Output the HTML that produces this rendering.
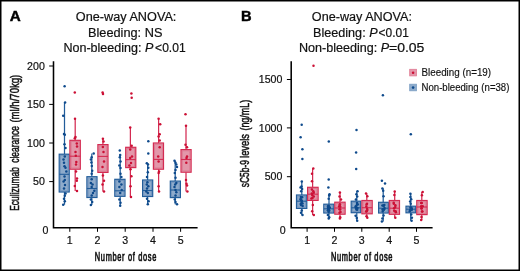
<!DOCTYPE html>
<html><head><meta charset="utf-8"><style>
html,body{margin:0;padding:0;background:#fff;}
svg{display:block;will-change:transform;}
text{font-family:"Liberation Sans",sans-serif;fill:#111;}
.tt{font-size:12.5px;stroke:#111;stroke-width:0.2px;}
.pl{font-size:14.9px;font-weight:bold;fill:#000;stroke:#000;stroke-width:0.45px;}
.tk{font-size:10.6px;stroke:#111;stroke-width:0.2px;}
.al{font-size:12.4px;stroke:#111;stroke-width:0.7px;}
.lg{font-size:10.2px;stroke:#111;stroke-width:0.15px;}
.yl{stroke-width:0.5px;}
</style></head><body>
<svg width="520" height="271" viewBox="0 0 520 271">
<rect width="520" height="271" fill="#fff"/>
<rect x="0.75" y="0.75" width="518.5" height="269.5" fill="none" stroke="#000" stroke-width="1.5"/>
<text x="9.7" y="20.75" class="pl" textLength="11.0" lengthAdjust="spacingAndGlyphs">A</text>
<text x="241.0" y="20.75" class="pl" textLength="10.6" lengthAdjust="spacingAndGlyphs">B</text>
<text x="75.80" y="20.9" class="tt" textLength="100.60" lengthAdjust="spacingAndGlyphs">One-way ANOVA:</text>
<text x="88.00" y="36.6" class="tt" textLength="74.40" lengthAdjust="spacingAndGlyphs">Bleeding: NS</text>
<text x="63.40" y="52.0" class="tt" textLength="90.00" lengthAdjust="spacingAndGlyphs">Non-bleeding: <tspan font-style="italic">P</tspan></text>
<text x="155.10" y="52.0" class="tt" textLength="30.50" lengthAdjust="spacingAndGlyphs">&lt;0.01</text>
<text x="311.80" y="20.9" class="tt" textLength="100.20" lengthAdjust="spacingAndGlyphs">One-way ANOVA:</text>
<text x="313.00" y="36.6" class="tt" textLength="64.60" lengthAdjust="spacingAndGlyphs">Bleeding: <tspan font-style="italic">P</tspan></text>
<text x="378.60" y="36.6" class="tt" textLength="30.20" lengthAdjust="spacingAndGlyphs">&lt;0.01</text>
<text x="299.00" y="52.0" class="tt" textLength="90.20" lengthAdjust="spacingAndGlyphs">Non-bleeding: <tspan font-style="italic">P</tspan></text>
<text x="389.00" y="52.0" class="tt" textLength="35.40" lengthAdjust="spacingAndGlyphs">=0.05</text>
<path d="M53.5 61.2 V227.8 H197.6" fill="none" stroke="#000" stroke-width="1.55"/>
<line x1="49.2" y1="66.0" x2="53.5" y2="66.0" stroke="#000" stroke-width="1"/>
<text x="44.8" y="69.7" text-anchor="end" class="tk">200</text>
<line x1="49.2" y1="104.4" x2="53.5" y2="104.4" stroke="#000" stroke-width="1"/>
<text x="44.8" y="108.10000000000001" text-anchor="end" class="tk">150</text>
<line x1="49.2" y1="143.0" x2="53.5" y2="143.0" stroke="#000" stroke-width="1"/>
<text x="44.8" y="146.7" text-anchor="end" class="tk">100</text>
<line x1="49.2" y1="181.6" x2="53.5" y2="181.6" stroke="#000" stroke-width="1"/>
<text x="44.8" y="185.29999999999998" text-anchor="end" class="tk">50</text>
<text x="48.4" y="234.3" text-anchor="end" class="tk">0</text>
<line x1="69.8" y1="227.8" x2="69.8" y2="231.8" stroke="#000" stroke-width="1"/>
<text x="69.8" y="243.8" text-anchor="middle" class="tk">1</text>
<line x1="97.5" y1="227.8" x2="97.5" y2="231.8" stroke="#000" stroke-width="1"/>
<text x="97.5" y="243.8" text-anchor="middle" class="tk">2</text>
<line x1="125.2" y1="227.8" x2="125.2" y2="231.8" stroke="#000" stroke-width="1"/>
<text x="125.2" y="243.8" text-anchor="middle" class="tk">3</text>
<line x1="153.0" y1="227.8" x2="153.0" y2="231.8" stroke="#000" stroke-width="1"/>
<text x="153.0" y="243.8" text-anchor="middle" class="tk">4</text>
<line x1="180.6" y1="227.8" x2="180.6" y2="231.8" stroke="#000" stroke-width="1"/>
<text x="180.6" y="243.8" text-anchor="middle" class="tk">5</text>
<text transform="translate(125.6 261.4) scale(0.6 1)" text-anchor="middle" class="al" textLength="102.67" lengthAdjust="spacing">Number of dose</text>
<text transform="translate(18.8 210.80) rotate(-90) scale(0.6 1)" class="al yl" textLength="72.83" lengthAdjust="spacingAndGlyphs">Eculizumab</text>
<text transform="translate(18.8 162.80) rotate(-90) scale(0.6 1)" class="al yl" textLength="61.17" lengthAdjust="spacingAndGlyphs">clearance</text>
<text transform="translate(18.8 122.60) rotate(-90) scale(0.6 1)" class="al yl" textLength="79.83" lengthAdjust="spacingAndGlyphs">(ml/h/70kg)</text>
<path d="M291.2 61.2 V227.8 H432.6" fill="none" stroke="#000" stroke-width="1.55"/>
<line x1="286.9" y1="79.5" x2="291.2" y2="79.5" stroke="#000" stroke-width="1"/>
<text x="282.4" y="83.2" text-anchor="end" class="tk">1500</text>
<line x1="286.9" y1="127.9" x2="291.2" y2="127.9" stroke="#000" stroke-width="1"/>
<text x="282.4" y="131.6" text-anchor="end" class="tk">1000</text>
<line x1="286.9" y1="176.7" x2="291.2" y2="176.7" stroke="#000" stroke-width="1"/>
<text x="282.4" y="180.39999999999998" text-anchor="end" class="tk">500</text>
<text x="285.6" y="234.3" text-anchor="end" class="tk">0</text>
<line x1="307.1" y1="227.8" x2="307.1" y2="231.8" stroke="#000" stroke-width="1"/>
<text x="307.1" y="243.8" text-anchor="middle" class="tk">1</text>
<line x1="334.5" y1="227.8" x2="334.5" y2="231.8" stroke="#000" stroke-width="1"/>
<text x="334.5" y="243.8" text-anchor="middle" class="tk">2</text>
<line x1="361.8" y1="227.8" x2="361.8" y2="231.8" stroke="#000" stroke-width="1"/>
<text x="361.8" y="243.8" text-anchor="middle" class="tk">3</text>
<line x1="389.2" y1="227.8" x2="389.2" y2="231.8" stroke="#000" stroke-width="1"/>
<text x="389.2" y="243.8" text-anchor="middle" class="tk">4</text>
<line x1="416.5" y1="227.8" x2="416.5" y2="231.8" stroke="#000" stroke-width="1"/>
<text x="416.5" y="243.8" text-anchor="middle" class="tk">5</text>
<text transform="translate(361.7 261.4) scale(0.6 1)" text-anchor="middle" class="al" textLength="102.67" lengthAdjust="spacing">Number of dose</text>
<text transform="translate(249.4 187.20) rotate(-90) scale(0.6 1)" class="al yl" textLength="45.17" lengthAdjust="spacingAndGlyphs">sC5b-9</text>
<text transform="translate(249.4 157.90) rotate(-90) scale(0.6 1)" class="al yl" textLength="39.83" lengthAdjust="spacingAndGlyphs">levels</text>
<text transform="translate(249.4 130.60) rotate(-90) scale(0.6 1)" class="al yl" textLength="51.50" lengthAdjust="spacingAndGlyphs">(ng/mL)</text>
<rect x="409.7" y="69.3" width="6.8" height="6.6" fill="#e397aa" stroke="#e07a93" stroke-width="0.8"/>
<circle cx="413.1" cy="72.8" r="1.3" fill="#cc1035"/>
<rect x="409.7" y="84.2" width="6.8" height="6.6" fill="#8eabcb" stroke="#7c9ec4" stroke-width="0.8"/>
<circle cx="413.1" cy="87.6" r="1.3" fill="#0e4a8c"/>
<text x="421.5" y="75.8" class="lg" textLength="69.6" lengthAdjust="spacingAndGlyphs">Bleeding (n=19)</text>
<text x="421.5" y="90.9" class="lg" textLength="87.9" lengthAdjust="spacingAndGlyphs">Non-bleeding (n=38)</text>
<line x1="64.5" y1="102.4" x2="64.5" y2="154.2" stroke="#225d9a" stroke-width="1.25"/>
<line x1="64.5" y1="192.0" x2="64.5" y2="204.7" stroke="#225d9a" stroke-width="1.25"/>
<rect x="59.20" y="154.20" width="10.00" height="37.80" fill="#8eabcb" stroke="#225d9a" stroke-width="1.2"/>
<rect x="60.40" y="155.40" width="7.60" height="35.40" fill="none" stroke="#7394bd" stroke-width="0.9"/>
<line x1="59.20" y1="174.3" x2="69.20" y2="174.3" stroke="#225d9a" stroke-width="1.1"/>
<circle cx="64.60" cy="86.30" r="1.25" fill="#0e4a8c"/>
<circle cx="65.10" cy="102.40" r="1.25" fill="#0e4a8c"/>
<circle cx="63.20" cy="115.80" r="1.25" fill="#0e4a8c"/>
<circle cx="64.00" cy="133.90" r="1.25" fill="#0e4a8c"/>
<circle cx="64.80" cy="134.80" r="1.25" fill="#0e4a8c"/>
<circle cx="64.50" cy="144.20" r="1.25" fill="#0e4a8c"/>
<circle cx="65.50" cy="148.00" r="1.25" fill="#0e4a8c"/>
<circle cx="64.80" cy="156.50" r="1.25" fill="#0e4a8c"/>
<circle cx="63.50" cy="159.60" r="1.25" fill="#0e4a8c"/>
<circle cx="64.00" cy="162.70" r="1.25" fill="#0e4a8c"/>
<circle cx="64.50" cy="166.20" r="1.25" fill="#0e4a8c"/>
<circle cx="65.50" cy="167.70" r="1.25" fill="#0e4a8c"/>
<circle cx="66.30" cy="171.50" r="1.25" fill="#0e4a8c"/>
<circle cx="64.50" cy="176.50" r="1.25" fill="#0e4a8c"/>
<circle cx="64.80" cy="180.00" r="1.25" fill="#0e4a8c"/>
<circle cx="63.60" cy="181.50" r="1.25" fill="#0e4a8c"/>
<circle cx="65.00" cy="185.00" r="1.25" fill="#0e4a8c"/>
<circle cx="64.00" cy="188.50" r="1.25" fill="#0e4a8c"/>
<circle cx="65.50" cy="193.50" r="1.25" fill="#0e4a8c"/>
<circle cx="64.80" cy="195.80" r="1.25" fill="#0e4a8c"/>
<circle cx="64.00" cy="198.80" r="1.25" fill="#0e4a8c"/>
<circle cx="64.80" cy="201.20" r="1.25" fill="#0e4a8c"/>
<circle cx="63.20" cy="204.70" r="1.25" fill="#0e4a8c"/>
<line x1="75.2" y1="118.8" x2="75.2" y2="140.3" stroke="#d42b52" stroke-width="1.25"/>
<line x1="75.2" y1="169.2" x2="75.2" y2="191.0" stroke="#d42b52" stroke-width="1.25"/>
<rect x="69.90" y="140.30" width="10.40" height="28.90" fill="#e397aa" stroke="#d42b52" stroke-width="1.2"/>
<rect x="71.10" y="141.50" width="8.00" height="26.50" fill="none" stroke="#dc7890" stroke-width="0.9"/>
<line x1="69.90" y1="156.2" x2="80.30" y2="156.2" stroke="#d42b52" stroke-width="1.1"/>
<circle cx="74.80" cy="92.40" r="1.25" fill="#cc1035"/>
<circle cx="75.00" cy="118.80" r="1.25" fill="#cc1035"/>
<circle cx="75.50" cy="137.00" r="1.25" fill="#cc1035"/>
<circle cx="74.80" cy="138.20" r="1.25" fill="#cc1035"/>
<circle cx="76.80" cy="143.50" r="1.25" fill="#cc1035"/>
<circle cx="77.00" cy="146.50" r="1.25" fill="#cc1035"/>
<circle cx="75.50" cy="152.00" r="1.25" fill="#cc1035"/>
<circle cx="75.80" cy="155.80" r="1.25" fill="#cc1035"/>
<circle cx="76.30" cy="162.00" r="1.25" fill="#cc1035"/>
<circle cx="76.00" cy="164.60" r="1.25" fill="#cc1035"/>
<circle cx="76.00" cy="171.50" r="1.25" fill="#cc1035"/>
<circle cx="77.00" cy="178.50" r="1.25" fill="#cc1035"/>
<circle cx="76.80" cy="180.80" r="1.25" fill="#cc1035"/>
<circle cx="74.80" cy="186.00" r="1.25" fill="#cc1035"/>
<circle cx="77.00" cy="191.00" r="1.25" fill="#cc1035"/>
<line x1="91.8" y1="153.5" x2="91.8" y2="176.7" stroke="#225d9a" stroke-width="1.25"/>
<line x1="91.8" y1="197.5" x2="91.8" y2="205.0" stroke="#225d9a" stroke-width="1.25"/>
<rect x="86.90" y="176.70" width="10.10" height="20.80" fill="#8eabcb" stroke="#225d9a" stroke-width="1.2"/>
<rect x="88.10" y="177.90" width="7.70" height="18.40" fill="none" stroke="#7394bd" stroke-width="0.9"/>
<line x1="86.90" y1="188.5" x2="97.00" y2="188.5" stroke="#225d9a" stroke-width="1.1"/>
<circle cx="93.70" cy="153.50" r="1.25" fill="#0e4a8c"/>
<circle cx="91.70" cy="157.30" r="1.25" fill="#0e4a8c"/>
<circle cx="90.90" cy="159.60" r="1.25" fill="#0e4a8c"/>
<circle cx="91.40" cy="162.50" r="1.25" fill="#0e4a8c"/>
<circle cx="91.80" cy="166.00" r="1.25" fill="#0e4a8c"/>
<circle cx="92.20" cy="170.80" r="1.25" fill="#0e4a8c"/>
<circle cx="91.70" cy="173.80" r="1.25" fill="#0e4a8c"/>
<circle cx="91.70" cy="179.20" r="1.25" fill="#0e4a8c"/>
<circle cx="90.90" cy="183.00" r="1.25" fill="#0e4a8c"/>
<circle cx="92.50" cy="184.60" r="1.25" fill="#0e4a8c"/>
<circle cx="91.70" cy="187.00" r="1.25" fill="#0e4a8c"/>
<circle cx="94.30" cy="190.80" r="1.25" fill="#0e4a8c"/>
<circle cx="93.00" cy="193.00" r="1.25" fill="#0e4a8c"/>
<circle cx="91.70" cy="195.40" r="1.25" fill="#0e4a8c"/>
<circle cx="90.90" cy="199.60" r="1.25" fill="#0e4a8c"/>
<circle cx="92.20" cy="202.00" r="1.25" fill="#0e4a8c"/>
<circle cx="90.90" cy="205.00" r="1.25" fill="#0e4a8c"/>
<line x1="102.9" y1="138.8" x2="102.9" y2="144.6" stroke="#d42b52" stroke-width="1.25"/>
<line x1="102.9" y1="172.4" x2="102.9" y2="191.5" stroke="#d42b52" stroke-width="1.25"/>
<rect x="97.90" y="144.60" width="10.10" height="27.80" fill="#e397aa" stroke="#d42b52" stroke-width="1.2"/>
<rect x="99.10" y="145.80" width="7.70" height="25.40" fill="none" stroke="#dc7890" stroke-width="0.9"/>
<line x1="97.90" y1="156.4" x2="108.00" y2="156.4" stroke="#d42b52" stroke-width="1.1"/>
<circle cx="102.60" cy="92.60" r="1.25" fill="#cc1035"/>
<circle cx="103.00" cy="93.90" r="1.25" fill="#cc1035"/>
<circle cx="102.90" cy="138.80" r="1.25" fill="#cc1035"/>
<circle cx="103.50" cy="141.60" r="1.25" fill="#cc1035"/>
<circle cx="102.90" cy="147.00" r="1.25" fill="#cc1035"/>
<circle cx="103.50" cy="152.00" r="1.25" fill="#cc1035"/>
<circle cx="104.00" cy="161.60" r="1.25" fill="#cc1035"/>
<circle cx="102.50" cy="167.00" r="1.25" fill="#cc1035"/>
<circle cx="102.90" cy="175.40" r="1.25" fill="#cc1035"/>
<circle cx="104.00" cy="180.80" r="1.25" fill="#cc1035"/>
<circle cx="102.50" cy="184.60" r="1.25" fill="#cc1035"/>
<circle cx="104.00" cy="191.50" r="1.25" fill="#cc1035"/>
<line x1="120.2" y1="155.0" x2="120.2" y2="179.3" stroke="#225d9a" stroke-width="1.25"/>
<line x1="120.2" y1="196.3" x2="120.2" y2="205.8" stroke="#225d9a" stroke-width="1.25"/>
<rect x="114.80" y="179.30" width="10.20" height="17.00" fill="#8eabcb" stroke="#225d9a" stroke-width="1.2"/>
<rect x="116.00" y="180.50" width="7.80" height="14.60" fill="none" stroke="#7394bd" stroke-width="0.9"/>
<line x1="114.80" y1="190.8" x2="125.00" y2="190.8" stroke="#225d9a" stroke-width="1.1"/>
<circle cx="119.80" cy="150.40" r="1.25" fill="#0e4a8c"/>
<circle cx="120.20" cy="155.00" r="1.25" fill="#0e4a8c"/>
<circle cx="119.80" cy="157.30" r="1.25" fill="#0e4a8c"/>
<circle cx="120.50" cy="161.50" r="1.25" fill="#0e4a8c"/>
<circle cx="119.40" cy="165.40" r="1.25" fill="#0e4a8c"/>
<circle cx="120.50" cy="168.00" r="1.25" fill="#0e4a8c"/>
<circle cx="120.50" cy="173.80" r="1.25" fill="#0e4a8c"/>
<circle cx="121.40" cy="177.00" r="1.25" fill="#0e4a8c"/>
<circle cx="119.40" cy="181.50" r="1.25" fill="#0e4a8c"/>
<circle cx="121.40" cy="184.60" r="1.25" fill="#0e4a8c"/>
<circle cx="119.40" cy="187.00" r="1.25" fill="#0e4a8c"/>
<circle cx="121.70" cy="190.00" r="1.25" fill="#0e4a8c"/>
<circle cx="120.20" cy="193.00" r="1.25" fill="#0e4a8c"/>
<circle cx="119.40" cy="199.60" r="1.25" fill="#0e4a8c"/>
<circle cx="120.50" cy="202.70" r="1.25" fill="#0e4a8c"/>
<circle cx="120.20" cy="205.80" r="1.25" fill="#0e4a8c"/>
<line x1="130.4" y1="127.6" x2="130.4" y2="147.3" stroke="#d42b52" stroke-width="1.25"/>
<line x1="130.4" y1="167.6" x2="130.4" y2="197.0" stroke="#d42b52" stroke-width="1.25"/>
<rect x="125.70" y="147.30" width="10.10" height="20.30" fill="#e397aa" stroke="#d42b52" stroke-width="1.2"/>
<rect x="126.90" y="148.50" width="7.70" height="17.90" fill="none" stroke="#dc7890" stroke-width="0.9"/>
<line x1="125.70" y1="159.6" x2="135.80" y2="159.6" stroke="#d42b52" stroke-width="1.1"/>
<circle cx="131.40" cy="93.40" r="1.25" fill="#cc1035"/>
<circle cx="131.70" cy="97.80" r="1.25" fill="#cc1035"/>
<circle cx="130.20" cy="127.60" r="1.25" fill="#cc1035"/>
<circle cx="131.70" cy="145.80" r="1.25" fill="#cc1035"/>
<circle cx="130.20" cy="149.60" r="1.25" fill="#cc1035"/>
<circle cx="132.00" cy="156.50" r="1.25" fill="#cc1035"/>
<circle cx="130.20" cy="158.00" r="1.25" fill="#cc1035"/>
<circle cx="131.00" cy="163.00" r="1.25" fill="#cc1035"/>
<circle cx="129.40" cy="165.40" r="1.25" fill="#cc1035"/>
<circle cx="130.50" cy="169.20" r="1.25" fill="#cc1035"/>
<circle cx="131.40" cy="176.20" r="1.25" fill="#cc1035"/>
<circle cx="130.50" cy="186.20" r="1.25" fill="#cc1035"/>
<circle cx="131.00" cy="197.00" r="1.25" fill="#cc1035"/>
<line x1="147.6" y1="163.3" x2="147.6" y2="180.0" stroke="#225d9a" stroke-width="1.25"/>
<line x1="147.6" y1="196.5" x2="147.6" y2="204.2" stroke="#225d9a" stroke-width="1.25"/>
<rect x="142.60" y="180.00" width="10.10" height="16.50" fill="#8eabcb" stroke="#225d9a" stroke-width="1.2"/>
<rect x="143.80" y="181.20" width="7.70" height="14.10" fill="none" stroke="#7394bd" stroke-width="0.9"/>
<line x1="142.60" y1="190.5" x2="152.70" y2="190.5" stroke="#225d9a" stroke-width="1.1"/>
<circle cx="148.30" cy="141.20" r="1.25" fill="#0e4a8c"/>
<circle cx="148.30" cy="153.50" r="1.25" fill="#0e4a8c"/>
<circle cx="146.80" cy="163.30" r="1.25" fill="#0e4a8c"/>
<circle cx="148.00" cy="164.60" r="1.25" fill="#0e4a8c"/>
<circle cx="148.30" cy="167.70" r="1.25" fill="#0e4a8c"/>
<circle cx="147.80" cy="172.30" r="1.25" fill="#0e4a8c"/>
<circle cx="147.00" cy="177.00" r="1.25" fill="#0e4a8c"/>
<circle cx="147.40" cy="182.30" r="1.25" fill="#0e4a8c"/>
<circle cx="146.80" cy="184.60" r="1.25" fill="#0e4a8c"/>
<circle cx="148.30" cy="186.20" r="1.25" fill="#0e4a8c"/>
<circle cx="147.00" cy="188.50" r="1.25" fill="#0e4a8c"/>
<circle cx="146.30" cy="191.50" r="1.25" fill="#0e4a8c"/>
<circle cx="147.80" cy="193.00" r="1.25" fill="#0e4a8c"/>
<circle cx="147.00" cy="198.80" r="1.25" fill="#0e4a8c"/>
<circle cx="148.60" cy="201.20" r="1.25" fill="#0e4a8c"/>
<circle cx="147.80" cy="204.20" r="1.25" fill="#0e4a8c"/>
<line x1="158.6" y1="118.8" x2="158.6" y2="143.0" stroke="#d42b52" stroke-width="1.25"/>
<line x1="158.6" y1="169.2" x2="158.6" y2="191.5" stroke="#d42b52" stroke-width="1.25"/>
<rect x="153.40" y="143.00" width="10.10" height="26.20" fill="#e397aa" stroke="#d42b52" stroke-width="1.2"/>
<rect x="154.60" y="144.20" width="7.70" height="23.80" fill="none" stroke="#dc7890" stroke-width="0.9"/>
<line x1="153.40" y1="159.4" x2="163.50" y2="159.4" stroke="#d42b52" stroke-width="1.1"/>
<circle cx="158.60" cy="118.80" r="1.25" fill="#cc1035"/>
<circle cx="160.20" cy="124.20" r="1.25" fill="#cc1035"/>
<circle cx="159.70" cy="134.20" r="1.25" fill="#cc1035"/>
<circle cx="158.60" cy="136.50" r="1.25" fill="#cc1035"/>
<circle cx="159.70" cy="140.40" r="1.25" fill="#cc1035"/>
<circle cx="159.70" cy="147.30" r="1.25" fill="#cc1035"/>
<circle cx="158.20" cy="156.50" r="1.25" fill="#cc1035"/>
<circle cx="158.60" cy="161.50" r="1.25" fill="#cc1035"/>
<circle cx="159.00" cy="171.50" r="1.25" fill="#cc1035"/>
<circle cx="158.60" cy="173.00" r="1.25" fill="#cc1035"/>
<circle cx="158.60" cy="186.20" r="1.25" fill="#cc1035"/>
<circle cx="159.00" cy="191.50" r="1.25" fill="#cc1035"/>
<line x1="175.2" y1="160.7" x2="175.2" y2="181.1" stroke="#225d9a" stroke-width="1.25"/>
<line x1="175.2" y1="197.6" x2="175.2" y2="204.2" stroke="#225d9a" stroke-width="1.25"/>
<rect x="170.30" y="181.10" width="10.10" height="16.50" fill="#8eabcb" stroke="#225d9a" stroke-width="1.2"/>
<rect x="171.50" y="182.30" width="7.70" height="14.10" fill="none" stroke="#7394bd" stroke-width="0.9"/>
<line x1="170.30" y1="190.0" x2="180.40" y2="190.0" stroke="#225d9a" stroke-width="1.1"/>
<circle cx="174.50" cy="160.70" r="1.25" fill="#0e4a8c"/>
<circle cx="175.50" cy="162.70" r="1.25" fill="#0e4a8c"/>
<circle cx="176.30" cy="164.60" r="1.25" fill="#0e4a8c"/>
<circle cx="177.00" cy="167.00" r="1.25" fill="#0e4a8c"/>
<circle cx="175.50" cy="170.00" r="1.25" fill="#0e4a8c"/>
<circle cx="174.80" cy="173.00" r="1.25" fill="#0e4a8c"/>
<circle cx="175.50" cy="177.70" r="1.25" fill="#0e4a8c"/>
<circle cx="176.30" cy="183.00" r="1.25" fill="#0e4a8c"/>
<circle cx="175.20" cy="184.60" r="1.25" fill="#0e4a8c"/>
<circle cx="174.50" cy="187.00" r="1.25" fill="#0e4a8c"/>
<circle cx="175.50" cy="190.00" r="1.25" fill="#0e4a8c"/>
<circle cx="176.30" cy="192.30" r="1.25" fill="#0e4a8c"/>
<circle cx="175.50" cy="195.40" r="1.25" fill="#0e4a8c"/>
<circle cx="174.80" cy="199.60" r="1.25" fill="#0e4a8c"/>
<circle cx="175.50" cy="202.00" r="1.25" fill="#0e4a8c"/>
<circle cx="177.00" cy="204.20" r="1.25" fill="#0e4a8c"/>
<line x1="186.0" y1="125.8" x2="186.0" y2="149.6" stroke="#d42b52" stroke-width="1.25"/>
<line x1="186.0" y1="172.2" x2="186.0" y2="191.5" stroke="#d42b52" stroke-width="1.25"/>
<rect x="181.00" y="149.60" width="10.10" height="22.60" fill="#e397aa" stroke="#d42b52" stroke-width="1.2"/>
<rect x="182.20" y="150.80" width="7.70" height="20.20" fill="none" stroke="#dc7890" stroke-width="0.9"/>
<line x1="181.00" y1="159.5" x2="191.10" y2="159.5" stroke="#d42b52" stroke-width="1.1"/>
<circle cx="185.50" cy="114.20" r="1.25" fill="#cc1035"/>
<circle cx="186.00" cy="125.80" r="1.25" fill="#cc1035"/>
<circle cx="185.50" cy="144.70" r="1.25" fill="#cc1035"/>
<circle cx="187.00" cy="147.30" r="1.25" fill="#cc1035"/>
<circle cx="187.00" cy="156.50" r="1.25" fill="#cc1035"/>
<circle cx="186.50" cy="158.00" r="1.25" fill="#cc1035"/>
<circle cx="186.30" cy="162.80" r="1.25" fill="#cc1035"/>
<circle cx="186.00" cy="180.00" r="1.25" fill="#cc1035"/>
<circle cx="186.50" cy="183.80" r="1.25" fill="#cc1035"/>
<circle cx="187.00" cy="185.40" r="1.25" fill="#cc1035"/>
<circle cx="187.40" cy="191.50" r="1.25" fill="#cc1035"/>
<line x1="301.8" y1="181.5" x2="301.8" y2="195.0" stroke="#225d9a" stroke-width="1.25"/>
<line x1="301.8" y1="208.4" x2="301.8" y2="215.0" stroke="#225d9a" stroke-width="1.25"/>
<rect x="296.50" y="195.00" width="10.30" height="13.40" fill="#8eabcb" stroke="#225d9a" stroke-width="1.2"/>
<rect x="297.70" y="196.20" width="7.90" height="11.00" fill="none" stroke="#7394bd" stroke-width="0.9"/>
<line x1="296.50" y1="201.2" x2="306.80" y2="201.2" stroke="#225d9a" stroke-width="1.1"/>
<circle cx="301.70" cy="124.80" r="1.25" fill="#0e4a8c"/>
<circle cx="300.60" cy="137.30" r="1.25" fill="#0e4a8c"/>
<circle cx="302.40" cy="149.30" r="1.25" fill="#0e4a8c"/>
<circle cx="302.40" cy="158.90" r="1.25" fill="#0e4a8c"/>
<circle cx="301.80" cy="181.50" r="1.25" fill="#0e4a8c"/>
<circle cx="301.50" cy="186.50" r="1.25" fill="#0e4a8c"/>
<circle cx="300.50" cy="187.60" r="1.25" fill="#0e4a8c"/>
<circle cx="302.10" cy="189.00" r="1.25" fill="#0e4a8c"/>
<circle cx="301.20" cy="191.20" r="1.25" fill="#0e4a8c"/>
<circle cx="302.10" cy="197.30" r="1.25" fill="#0e4a8c"/>
<circle cx="300.60" cy="199.60" r="1.25" fill="#0e4a8c"/>
<circle cx="302.50" cy="203.50" r="1.25" fill="#0e4a8c"/>
<circle cx="301.00" cy="205.00" r="1.25" fill="#0e4a8c"/>
<circle cx="301.80" cy="210.40" r="1.25" fill="#0e4a8c"/>
<circle cx="301.00" cy="212.70" r="1.25" fill="#0e4a8c"/>
<circle cx="302.50" cy="215.00" r="1.25" fill="#0e4a8c"/>
<circle cx="300.89" cy="196.96" r="1.25" fill="#0e4a8c"/>
<circle cx="300.69" cy="198.97" r="1.25" fill="#0e4a8c"/>
<circle cx="301.45" cy="200.27" r="1.25" fill="#0e4a8c"/>
<circle cx="301.82" cy="200.99" r="1.25" fill="#0e4a8c"/>
<circle cx="301.63" cy="202.45" r="1.25" fill="#0e4a8c"/>
<circle cx="300.74" cy="203.98" r="1.25" fill="#0e4a8c"/>
<circle cx="302.65" cy="206.04" r="1.25" fill="#0e4a8c"/>
<line x1="312.6" y1="168.5" x2="312.6" y2="187.3" stroke="#d42b52" stroke-width="1.25"/>
<line x1="312.6" y1="200.4" x2="312.6" y2="215.0" stroke="#d42b52" stroke-width="1.25"/>
<rect x="307.60" y="187.30" width="10.50" height="13.10" fill="#e397aa" stroke="#d42b52" stroke-width="1.2"/>
<rect x="308.80" y="188.50" width="8.10" height="10.70" fill="none" stroke="#dc7890" stroke-width="0.9"/>
<line x1="307.60" y1="194.2" x2="318.10" y2="194.2" stroke="#d42b52" stroke-width="1.1"/>
<circle cx="313.50" cy="65.80" r="1.25" fill="#cc1035"/>
<circle cx="313.30" cy="168.50" r="1.25" fill="#cc1035"/>
<circle cx="312.00" cy="173.80" r="1.25" fill="#cc1035"/>
<circle cx="312.00" cy="181.20" r="1.25" fill="#cc1035"/>
<circle cx="313.30" cy="191.20" r="1.25" fill="#cc1035"/>
<circle cx="311.80" cy="193.50" r="1.25" fill="#cc1035"/>
<circle cx="313.80" cy="196.50" r="1.25" fill="#cc1035"/>
<circle cx="312.50" cy="198.00" r="1.25" fill="#cc1035"/>
<circle cx="312.80" cy="205.00" r="1.25" fill="#cc1035"/>
<circle cx="312.20" cy="211.20" r="1.25" fill="#cc1035"/>
<circle cx="313.80" cy="215.00" r="1.25" fill="#cc1035"/>
<circle cx="311.88" cy="189.46" r="1.25" fill="#cc1035"/>
<circle cx="313.76" cy="192.79" r="1.25" fill="#cc1035"/>
<circle cx="312.33" cy="195.24" r="1.25" fill="#cc1035"/>
<circle cx="311.42" cy="198.40" r="1.25" fill="#cc1035"/>
<line x1="329.0" y1="194.2" x2="329.0" y2="204.2" stroke="#225d9a" stroke-width="1.25"/>
<line x1="329.0" y1="213.0" x2="329.0" y2="218.5" stroke="#225d9a" stroke-width="1.25"/>
<rect x="323.80" y="204.20" width="10.00" height="8.80" fill="#8eabcb" stroke="#225d9a" stroke-width="1.2"/>
<rect x="325.00" y="205.40" width="7.60" height="6.40" fill="none" stroke="#7394bd" stroke-width="0.9"/>
<line x1="323.80" y1="208.8" x2="333.80" y2="208.8" stroke="#225d9a" stroke-width="1.1"/>
<circle cx="328.80" cy="141.40" r="1.25" fill="#0e4a8c"/>
<circle cx="328.70" cy="179.60" r="1.25" fill="#0e4a8c"/>
<circle cx="328.40" cy="187.60" r="1.25" fill="#0e4a8c"/>
<circle cx="329.50" cy="194.20" r="1.25" fill="#0e4a8c"/>
<circle cx="329.20" cy="195.50" r="1.25" fill="#0e4a8c"/>
<circle cx="328.70" cy="198.80" r="1.25" fill="#0e4a8c"/>
<circle cx="328.70" cy="205.80" r="1.25" fill="#0e4a8c"/>
<circle cx="327.90" cy="208.00" r="1.25" fill="#0e4a8c"/>
<circle cx="329.20" cy="210.40" r="1.25" fill="#0e4a8c"/>
<circle cx="328.70" cy="212.00" r="1.25" fill="#0e4a8c"/>
<circle cx="327.90" cy="215.00" r="1.25" fill="#0e4a8c"/>
<circle cx="329.20" cy="217.30" r="1.25" fill="#0e4a8c"/>
<circle cx="328.70" cy="218.50" r="1.25" fill="#0e4a8c"/>
<circle cx="328.45" cy="206.69" r="1.25" fill="#0e4a8c"/>
<circle cx="328.01" cy="206.37" r="1.25" fill="#0e4a8c"/>
<circle cx="329.82" cy="207.46" r="1.25" fill="#0e4a8c"/>
<circle cx="329.21" cy="208.09" r="1.25" fill="#0e4a8c"/>
<circle cx="328.67" cy="209.65" r="1.25" fill="#0e4a8c"/>
<circle cx="327.86" cy="210.33" r="1.25" fill="#0e4a8c"/>
<circle cx="328.24" cy="210.38" r="1.25" fill="#0e4a8c"/>
<line x1="340.0" y1="192.4" x2="340.0" y2="202.2" stroke="#d42b52" stroke-width="1.25"/>
<line x1="340.0" y1="214.2" x2="340.0" y2="218.5" stroke="#d42b52" stroke-width="1.25"/>
<rect x="334.80" y="202.20" width="10.30" height="12.00" fill="#e397aa" stroke="#d42b52" stroke-width="1.2"/>
<rect x="336.00" y="203.40" width="7.90" height="9.60" fill="none" stroke="#dc7890" stroke-width="0.9"/>
<line x1="334.80" y1="208.0" x2="345.10" y2="208.0" stroke="#d42b52" stroke-width="1.1"/>
<circle cx="339.90" cy="192.40" r="1.25" fill="#cc1035"/>
<circle cx="339.50" cy="196.50" r="1.25" fill="#cc1035"/>
<circle cx="341.00" cy="199.60" r="1.25" fill="#cc1035"/>
<circle cx="339.90" cy="204.20" r="1.25" fill="#cc1035"/>
<circle cx="339.00" cy="206.50" r="1.25" fill="#cc1035"/>
<circle cx="340.20" cy="209.60" r="1.25" fill="#cc1035"/>
<circle cx="339.50" cy="212.70" r="1.25" fill="#cc1035"/>
<circle cx="340.20" cy="217.30" r="1.25" fill="#cc1035"/>
<circle cx="339.90" cy="218.50" r="1.25" fill="#cc1035"/>
<circle cx="339.81" cy="205.11" r="1.25" fill="#cc1035"/>
<circle cx="340.22" cy="206.78" r="1.25" fill="#cc1035"/>
<circle cx="339.48" cy="209.25" r="1.25" fill="#cc1035"/>
<circle cx="340.52" cy="212.05" r="1.25" fill="#cc1035"/>
<line x1="356.8" y1="191.2" x2="356.8" y2="201.2" stroke="#225d9a" stroke-width="1.25"/>
<line x1="356.8" y1="212.7" x2="356.8" y2="221.0" stroke="#225d9a" stroke-width="1.25"/>
<rect x="351.20" y="201.20" width="9.50" height="11.50" fill="#8eabcb" stroke="#225d9a" stroke-width="1.2"/>
<rect x="352.40" y="202.40" width="7.10" height="9.10" fill="none" stroke="#7394bd" stroke-width="0.9"/>
<line x1="351.20" y1="207.8" x2="360.70" y2="207.8" stroke="#225d9a" stroke-width="1.1"/>
<circle cx="356.50" cy="129.90" r="1.25" fill="#0e4a8c"/>
<circle cx="356.10" cy="152.40" r="1.25" fill="#0e4a8c"/>
<circle cx="356.20" cy="168.90" r="1.25" fill="#0e4a8c"/>
<circle cx="357.50" cy="191.20" r="1.25" fill="#0e4a8c"/>
<circle cx="356.40" cy="194.20" r="1.25" fill="#0e4a8c"/>
<circle cx="357.20" cy="196.50" r="1.25" fill="#0e4a8c"/>
<circle cx="355.90" cy="199.60" r="1.25" fill="#0e4a8c"/>
<circle cx="357.20" cy="204.20" r="1.25" fill="#0e4a8c"/>
<circle cx="355.60" cy="206.50" r="1.25" fill="#0e4a8c"/>
<circle cx="356.40" cy="209.60" r="1.25" fill="#0e4a8c"/>
<circle cx="355.60" cy="215.80" r="1.25" fill="#0e4a8c"/>
<circle cx="356.80" cy="218.00" r="1.25" fill="#0e4a8c"/>
<circle cx="357.20" cy="220.70" r="1.25" fill="#0e4a8c"/>
<circle cx="356.99" cy="202.90" r="1.25" fill="#0e4a8c"/>
<circle cx="357.78" cy="204.56" r="1.25" fill="#0e4a8c"/>
<circle cx="356.25" cy="206.10" r="1.25" fill="#0e4a8c"/>
<circle cx="355.81" cy="207.72" r="1.25" fill="#0e4a8c"/>
<circle cx="357.47" cy="208.03" r="1.25" fill="#0e4a8c"/>
<circle cx="356.77" cy="208.82" r="1.25" fill="#0e4a8c"/>
<circle cx="357.24" cy="209.86" r="1.25" fill="#0e4a8c"/>
<line x1="366.8" y1="193.4" x2="366.8" y2="200.5" stroke="#d42b52" stroke-width="1.25"/>
<line x1="366.8" y1="213.8" x2="366.8" y2="217.7" stroke="#d42b52" stroke-width="1.25"/>
<rect x="361.90" y="200.50" width="10.30" height="13.30" fill="#e397aa" stroke="#d42b52" stroke-width="1.2"/>
<rect x="363.10" y="201.70" width="7.90" height="10.90" fill="none" stroke="#dc7890" stroke-width="0.9"/>
<line x1="361.90" y1="207.7" x2="372.20" y2="207.7" stroke="#d42b52" stroke-width="1.1"/>
<circle cx="366.00" cy="193.40" r="1.25" fill="#cc1035"/>
<circle cx="367.30" cy="196.20" r="1.25" fill="#cc1035"/>
<circle cx="366.50" cy="204.60" r="1.25" fill="#cc1035"/>
<circle cx="367.30" cy="210.00" r="1.25" fill="#cc1035"/>
<circle cx="366.10" cy="211.50" r="1.25" fill="#cc1035"/>
<circle cx="366.50" cy="216.20" r="1.25" fill="#cc1035"/>
<circle cx="367.30" cy="217.70" r="1.25" fill="#cc1035"/>
<circle cx="366.99" cy="203.71" r="1.25" fill="#cc1035"/>
<circle cx="366.32" cy="206.46" r="1.25" fill="#cc1035"/>
<circle cx="367.05" cy="208.75" r="1.25" fill="#cc1035"/>
<circle cx="366.69" cy="211.14" r="1.25" fill="#cc1035"/>
<line x1="383.2" y1="188.5" x2="383.2" y2="202.3" stroke="#225d9a" stroke-width="1.25"/>
<line x1="383.2" y1="213.0" x2="383.2" y2="221.5" stroke="#225d9a" stroke-width="1.25"/>
<rect x="378.60" y="202.30" width="9.70" height="10.70" fill="#8eabcb" stroke="#225d9a" stroke-width="1.2"/>
<rect x="379.80" y="203.50" width="7.30" height="8.30" fill="none" stroke="#7394bd" stroke-width="0.9"/>
<line x1="378.60" y1="208.2" x2="388.30" y2="208.2" stroke="#225d9a" stroke-width="1.1"/>
<circle cx="382.90" cy="95.20" r="1.25" fill="#0e4a8c"/>
<circle cx="381.90" cy="180.80" r="1.25" fill="#0e4a8c"/>
<circle cx="385.00" cy="183.40" r="1.25" fill="#0e4a8c"/>
<circle cx="382.40" cy="188.50" r="1.25" fill="#0e4a8c"/>
<circle cx="383.20" cy="190.80" r="1.25" fill="#0e4a8c"/>
<circle cx="383.50" cy="196.20" r="1.25" fill="#0e4a8c"/>
<circle cx="382.40" cy="205.40" r="1.25" fill="#0e4a8c"/>
<circle cx="384.20" cy="209.20" r="1.25" fill="#0e4a8c"/>
<circle cx="382.70" cy="211.50" r="1.25" fill="#0e4a8c"/>
<circle cx="383.50" cy="215.40" r="1.25" fill="#0e4a8c"/>
<circle cx="382.40" cy="218.50" r="1.25" fill="#0e4a8c"/>
<circle cx="381.90" cy="221.50" r="1.25" fill="#0e4a8c"/>
<circle cx="384.36" cy="204.89" r="1.25" fill="#0e4a8c"/>
<circle cx="383.63" cy="205.41" r="1.25" fill="#0e4a8c"/>
<circle cx="383.72" cy="205.85" r="1.25" fill="#0e4a8c"/>
<circle cx="384.48" cy="207.89" r="1.25" fill="#0e4a8c"/>
<circle cx="382.64" cy="209.27" r="1.25" fill="#0e4a8c"/>
<circle cx="383.64" cy="209.67" r="1.25" fill="#0e4a8c"/>
<circle cx="383.10" cy="210.19" r="1.25" fill="#0e4a8c"/>
<line x1="394.7" y1="191.5" x2="394.7" y2="200.5" stroke="#d42b52" stroke-width="1.25"/>
<line x1="394.7" y1="214.3" x2="394.7" y2="217.7" stroke="#d42b52" stroke-width="1.25"/>
<rect x="389.30" y="200.50" width="10.20" height="13.80" fill="#e397aa" stroke="#d42b52" stroke-width="1.2"/>
<rect x="390.50" y="201.70" width="7.80" height="11.40" fill="none" stroke="#dc7890" stroke-width="0.9"/>
<line x1="389.30" y1="208.2" x2="399.50" y2="208.2" stroke="#d42b52" stroke-width="1.1"/>
<circle cx="394.70" cy="191.50" r="1.25" fill="#cc1035"/>
<circle cx="394.40" cy="195.00" r="1.25" fill="#cc1035"/>
<circle cx="393.80" cy="203.80" r="1.25" fill="#cc1035"/>
<circle cx="395.30" cy="207.00" r="1.25" fill="#cc1035"/>
<circle cx="394.20" cy="210.80" r="1.25" fill="#cc1035"/>
<circle cx="395.80" cy="212.30" r="1.25" fill="#cc1035"/>
<circle cx="395.30" cy="217.70" r="1.25" fill="#cc1035"/>
<circle cx="393.70" cy="202.82" r="1.25" fill="#cc1035"/>
<circle cx="395.40" cy="205.34" r="1.25" fill="#cc1035"/>
<circle cx="394.04" cy="208.16" r="1.25" fill="#cc1035"/>
<circle cx="395.67" cy="211.28" r="1.25" fill="#cc1035"/>
<line x1="410.7" y1="193.8" x2="410.7" y2="206.2" stroke="#225d9a" stroke-width="1.25"/>
<line x1="410.7" y1="212.8" x2="410.7" y2="220.8" stroke="#225d9a" stroke-width="1.25"/>
<rect x="406.00" y="206.20" width="9.70" height="6.60" fill="#8eabcb" stroke="#225d9a" stroke-width="1.2"/>
<rect x="407.20" y="207.40" width="7.30" height="4.20" fill="none" stroke="#7394bd" stroke-width="0.9"/>
<line x1="406.00" y1="209.2" x2="415.70" y2="209.2" stroke="#225d9a" stroke-width="1.1"/>
<circle cx="410.80" cy="134.20" r="1.25" fill="#0e4a8c"/>
<circle cx="410.40" cy="193.80" r="1.25" fill="#0e4a8c"/>
<circle cx="410.40" cy="196.90" r="1.25" fill="#0e4a8c"/>
<circle cx="411.20" cy="199.20" r="1.25" fill="#0e4a8c"/>
<circle cx="410.10" cy="201.50" r="1.25" fill="#0e4a8c"/>
<circle cx="410.70" cy="203.80" r="1.25" fill="#0e4a8c"/>
<circle cx="411.20" cy="207.70" r="1.25" fill="#0e4a8c"/>
<circle cx="410.10" cy="210.00" r="1.25" fill="#0e4a8c"/>
<circle cx="411.20" cy="214.60" r="1.25" fill="#0e4a8c"/>
<circle cx="411.90" cy="217.70" r="1.25" fill="#0e4a8c"/>
<circle cx="411.60" cy="220.80" r="1.25" fill="#0e4a8c"/>
<circle cx="410.57" cy="207.29" r="1.25" fill="#0e4a8c"/>
<circle cx="411.70" cy="208.55" r="1.25" fill="#0e4a8c"/>
<circle cx="411.65" cy="209.50" r="1.25" fill="#0e4a8c"/>
<circle cx="410.48" cy="209.15" r="1.25" fill="#0e4a8c"/>
<circle cx="411.70" cy="209.79" r="1.25" fill="#0e4a8c"/>
<circle cx="409.79" cy="211.26" r="1.25" fill="#0e4a8c"/>
<circle cx="410.00" cy="210.52" r="1.25" fill="#0e4a8c"/>
<line x1="421.8" y1="192.0" x2="421.8" y2="200.5" stroke="#d42b52" stroke-width="1.25"/>
<line x1="421.8" y1="214.6" x2="421.8" y2="220.0" stroke="#d42b52" stroke-width="1.25"/>
<rect x="416.80" y="200.50" width="10.30" height="14.10" fill="#e397aa" stroke="#d42b52" stroke-width="1.2"/>
<rect x="418.00" y="201.70" width="7.90" height="11.70" fill="none" stroke="#dc7890" stroke-width="0.9"/>
<line x1="416.80" y1="207.0" x2="427.10" y2="207.0" stroke="#d42b52" stroke-width="1.1"/>
<circle cx="422.70" cy="192.00" r="1.25" fill="#cc1035"/>
<circle cx="421.90" cy="195.20" r="1.25" fill="#cc1035"/>
<circle cx="421.20" cy="203.00" r="1.25" fill="#cc1035"/>
<circle cx="422.70" cy="206.20" r="1.25" fill="#cc1035"/>
<circle cx="421.50" cy="208.50" r="1.25" fill="#cc1035"/>
<circle cx="422.40" cy="211.50" r="1.25" fill="#cc1035"/>
<circle cx="421.50" cy="217.00" r="1.25" fill="#cc1035"/>
<circle cx="421.20" cy="220.00" r="1.25" fill="#cc1035"/>
<circle cx="421.76" cy="202.96" r="1.25" fill="#cc1035"/>
<circle cx="421.18" cy="206.31" r="1.25" fill="#cc1035"/>
<circle cx="421.59" cy="208.14" r="1.25" fill="#cc1035"/>
<circle cx="421.97" cy="211.50" r="1.25" fill="#cc1035"/>
</svg>
</body></html>
